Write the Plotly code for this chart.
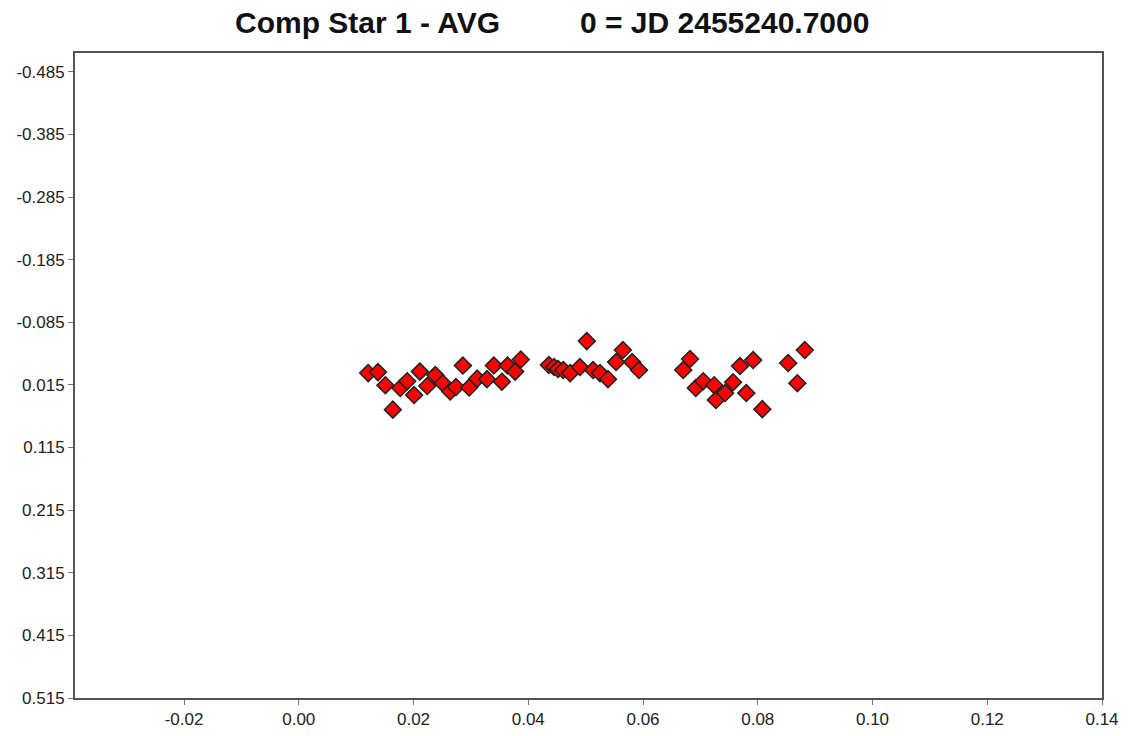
import plotly.graph_objects as go

# Phase (days from JD 2455240.7000) and differential magnitude
phase = [
    0.0121, 0.0138, 0.0151, 0.0164, 0.0177, 0.0189, 0.0201, 0.0211, 0.0224, 0.0238,
    0.0251, 0.0264, 0.0274, 0.0286, 0.0297, 0.0311, 0.0328, 0.0340, 0.0354, 0.0364,
    0.0377, 0.0387,
    0.0436, 0.0445, 0.0452, 0.0461, 0.0473, 0.0490, 0.0502, 0.0513, 0.0525, 0.0539,
    0.0553, 0.0565, 0.0581, 0.0593,
    0.0670, 0.0682, 0.0692, 0.0705, 0.0724, 0.0727, 0.0743, 0.0757, 0.0769, 0.0780,
    0.0792, 0.0808, 0.0853, 0.0869, 0.0882,
]
mag = [
    -0.0038, -0.0054, 0.0154, 0.0545, 0.0201, 0.0090, 0.0313, -0.0062, 0.0169, -0.0006,
    0.0122, 0.0257, 0.0185, -0.0158, 0.0193, 0.0050, 0.0058, -0.0158, 0.0098, -0.0158,
    -0.0062, -0.0254,
    -0.0166, -0.0134, -0.0102, -0.0086, -0.0038, -0.0134, -0.0549, -0.0086, -0.0038, 0.0058,
    -0.0214, -0.0406, -0.0214, -0.0086,
    -0.0086, -0.0262, 0.0201, 0.0090, 0.0154, 0.0393, 0.0281, 0.0106, -0.0150, 0.0281,
    -0.0246, 0.0537, -0.0198, 0.0122, -0.0406,
]

x_ticks = [-0.02, 0.00, 0.02, 0.04, 0.06, 0.08, 0.10, 0.12, 0.14]
y_ticks = [-0.485, -0.385, -0.285, -0.185, -0.085, 0.015, 0.115, 0.215, 0.315, 0.415, 0.515]
title_left = "Comp Star 1 - AVG"
title_right = "0 = JD 2455240.7000"

fig = go.Figure()
fig.add_trace(go.Scatter(
    x=phase, y=mag, mode="markers",
    marker=dict(symbol="diamond", size=13, color="#ff0000",
                line=dict(color="#222222", width=1.5)),
    showlegend=False, hoverinfo="x+y",
))

axis_common = dict(
    showgrid=False, zeroline=False, showline=True, linecolor="#555555", linewidth=2,
    mirror=True, ticks="outside", ticklen=5, tickwidth=1, tickcolor="#777777",
    automargin=False,
    tickfont=dict(family="Liberation Sans, Arial, sans-serif", size=17, color="#222222"),
)

fig.update_xaxes(range=[-0.039, 0.14], tickvals=x_ticks,
                 ticktext=[f"{v:.2f}" for v in x_ticks], **axis_common)
fig.update_yaxes(range=[0.515, -0.515], tickvals=y_ticks,
                 ticktext=[f"{v:.3f}" for v in y_ticks], **axis_common)

title_font = dict(family="Liberation Sans, Arial, sans-serif", size=30, color="#111111")
fig.add_annotation(text=f"<b>{title_left}</b>", xref="paper", yref="paper",
                   x=0.2848, y=1.048, xanchor="center", yanchor="middle",
                   showarrow=False, font=title_font)
fig.add_annotation(text=f"<b>{title_right}</b>", xref="paper", yref="paper",
                   x=0.632, y=1.048, xanchor="center", yanchor="middle",
                   showarrow=False, font=title_font)

fig.update_layout(
    width=1130, height=736,
    margin=dict(l=75, r=28, t=53, b=38),
    paper_bgcolor="white", plot_bgcolor="white",
)

fig.write_html("out.html", config={"displayModeBar": False},
               post_script="document.body.style.margin='0';")
